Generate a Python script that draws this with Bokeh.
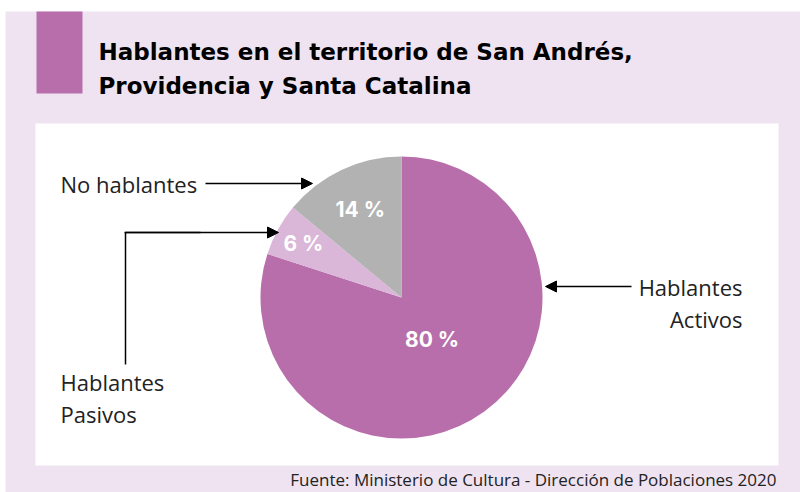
import numpy as np
from bokeh.plotting import figure
from bokeh.models import Range1d, Arrow, NormalHead, ColumnDataSource
from bokeh.core.properties import value
from bokeh.embed import file_html
from bokeh.resources import INLINE

W, H = 800, 492

title_lines = ["Hablantes en el territorio de San Andrés,", "Providencia y Santa Catalina"]
categories = ["Hablantes Activos", "Hablantes Pasivos", "No hablantes"]
shares = [80, 6, 14]
pct_labels = ["80 %", "6 %", "14 %"]
colors = ["#b86eab", "#dab6d8", "#b2b2b2"]
source_text = "Fuente: Ministerio de Cultura - Dirección de Poblaciones 2020"

def Y(py):
    return H - py

p = figure(width=W, height=H, x_range=Range1d(0, W), y_range=Range1d(0, H),
           output_backend="svg", toolbar_location=None, min_border=0)
p.axis.visible = False
p.grid.visible = False
p.outline_line_color = None
p.background_fill_color = "white"
p.border_fill_color = "white"

# backgrounds
p.quad(left=5, right=W, top=Y(11), bottom=0, fill_color="#efe3f1", line_color=None)
p.quad(left=36, right=82, top=Y(11), bottom=Y(93), fill_color="#b86eab", line_color=None)
p.quad(left=35, right=778, top=Y(123), bottom=Y(465), fill_color="white", line_color=None)

# title
for i, t in enumerate(title_lines):
    p.text(x=[98], y=[Y(51 + i * 34)], text=[t], text_font=value("DejaVu Sans"),
           text_font_style="bold", text_font_size="23px", text_color="black",
           text_baseline="middle", text_align="left")

# pie
cx, cy, r = 401, Y(297), 141
fr = np.array(shares, dtype=float) / sum(shares)
cum = np.concatenate([[0], np.cumsum(fr)])
starts = np.pi / 2 - 2 * np.pi * cum[:-1]
ends = np.pi / 2 - 2 * np.pi * cum[1:]
src = ColumnDataSource(dict(start=starts, end=ends, color=colors))
p.wedge(x=cx, y=cy, radius=r, start_angle="start", end_angle="end", direction="clock",
        fill_color="color", line_color=None, source=src)

mids = (starts + ends) / 2
label_r = [52, 112, 97]
lx = [cx + rr * np.cos(a) for rr, a in zip(label_r, mids)]
ly = [cy + rr * np.sin(a) for rr, a in zip(label_r, mids)]
p.text(x=lx, y=ly, text=pct_labels, text_font=value("Inter"), text_font_style="bold",
       text_font_size="21px", text_color="white", text_align="center", text_baseline="middle")

# category labels
lab_font = value("Open Sans")
p.text(x=[60], y=[Y(183)], text=["No hablantes"], text_font=lab_font, text_font_size="22px",
       text_color="#222222", text_align="left", text_baseline="middle")
p.text(x=[60, 60], y=[Y(381), Y(413)], text=["Hablantes", "Pasivos"], text_font=lab_font,
       text_font_size="22px", text_color="#222222", text_align="left", text_baseline="middle")
p.text(x=[742, 742], y=[Y(286), Y(318)], text=["Hablantes", "Activos"], text_font=lab_font,
       text_font_size="22px", text_color="#222222", text_align="right", text_baseline="middle")

# arrows
def head():
    return NormalHead(size=11, fill_color="black", line_color="black")

p.add_layout(Arrow(end=head(), x_start=205, y_start=Y(183), x_end=312, y_end=Y(183),
                   line_width=1.5, line_color="black"))
p.line(x=[125, 125, 200], y=[Y(364), Y(232), Y(232)], line_width=1.5, line_color="black")
p.add_layout(Arrow(end=head(), x_start=124, y_start=Y(232), x_end=278, y_end=Y(232),
                   line_width=1.5, line_color="black"))
p.add_layout(Arrow(end=head(), x_start=631, y_start=Y(286), x_end=545, y_end=Y(286),
                   line_width=1.5, line_color="black"))

# source
p.text(x=[776], y=[Y(479)], text=[source_text], text_font=lab_font, text_font_size="17px",
       text_color="#222222", text_align="right", text_baseline="middle")

open("out.html", "w").write(file_html(p, INLINE))
